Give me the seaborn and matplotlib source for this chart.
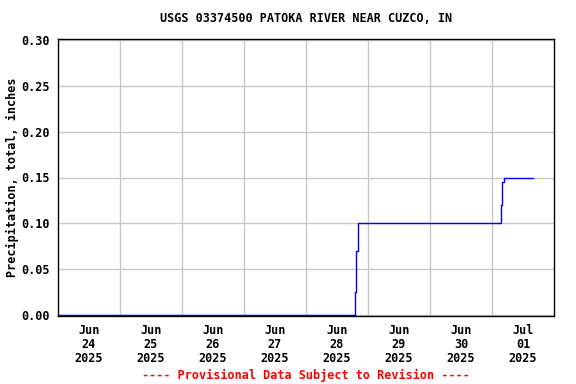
import matplotlib
matplotlib.use('Agg')
import matplotlib.pyplot as plt
import pandas as pd
import seaborn as sns

# precipitation, cumulative total (inches), 15-min record reduced to change points
times = ['2025-06-24 00:00', '2025-06-28 19:00', '2025-06-28 19:30',
         '2025-06-28 20:00', '2025-07-01 03:30', '2025-07-01 04:00',
         '2025-07-01 04:30', '2025-07-01 15:45']
precip = [0.00, 0.025, 0.07, 0.10, 0.12, 0.145, 0.15, 0.15]

day_labels = ['Jun\n24\n2025', 'Jun\n25\n2025', 'Jun\n26\n2025', 'Jun\n27\n2025',
              'Jun\n28\n2025', 'Jun\n29\n2025', 'Jun\n30\n2025', 'Jul\n01\n2025']
y_ticks = [0.00, 0.05, 0.10, 0.15, 0.20, 0.25, 0.30]

title = 'USGS 03374500 PATOKA RIVER NEAR CUZCO, IN'
y_label = 'Precipitation, total, inches'
footnote = '---- Provisional Data Subject to Revision ----'


def setup_style():
    sns.set_style('white')
    plt.rcParams['font.family'] = ['DejaVu Sans Mono']
    plt.rcParams['font.weight'] = 'bold'
    plt.rcParams['axes.labelweight'] = 'bold'
    plt.rcParams['font.size'] = 8.5
    plt.rcParams['text.color'] = 'black'
    plt.rcParams['axes.labelcolor'] = 'black'
    plt.rcParams['xtick.color'] = 'black'
    plt.rcParams['ytick.color'] = 'black'


def make_plot():
    df = pd.DataFrame({'time': pd.to_datetime(times), 'precip': precip})

    fig = plt.figure(figsize=(5.76, 3.84), dpi=100)
    ax = fig.add_axes([58 / 576, 68 / 384, 496 / 576, 277 / 384])

    sns.lineplot(data=df, x='time', y='precip', ax=ax, color='#0000ff',
                 linewidth=1.0, drawstyle='steps-post', estimator=None, sort=False)

    start = pd.Timestamp('2025-06-24')
    days = pd.date_range(start, periods=9, freq='D')
    noons = days[:-1] + pd.Timedelta(hours=12)
    ax.set_xlim(days[0], days[-1])
    ax.set_xticks(noons)
    ax.set_xticklabels(day_labels, linespacing=1.08)
    ax.set_xticks(days[1:-1], minor=True)
    ax.tick_params(axis='x', which='both', length=0, pad=6)
    ax.grid(True, axis='x', which='minor', color='#c8c8c8', linewidth=1.0)

    ax.set_ylim(-0.0015, 0.3015)
    ax.set_yticks(y_ticks)
    ax.set_yticklabels(['%.2f' % v for v in y_ticks])
    ax.tick_params(axis='y', length=0, pad=6)
    ax.grid(True, axis='y', which='major', color='#c8c8c8', linewidth=1.0)

    for s in ax.spines.values():
        s.set_color('black')
        s.set_linewidth(1.0)

    ax.set_xlabel('')
    ax.set_ylabel(y_label)
    ax.yaxis.set_label_coords(-0.078, 0.5)

    fig.text(306 / 576, 1 - 19 / 384, title, ha='center', va='center')
    fig.text(306 / 576, 1 - 375 / 384, footnote, ha='center', va='center',
             color='#ff0000')
    return fig


if __name__ == '__main__':
    setup_style()
    fig = make_plot()
    fig.savefig('out.png', dpi=100)
